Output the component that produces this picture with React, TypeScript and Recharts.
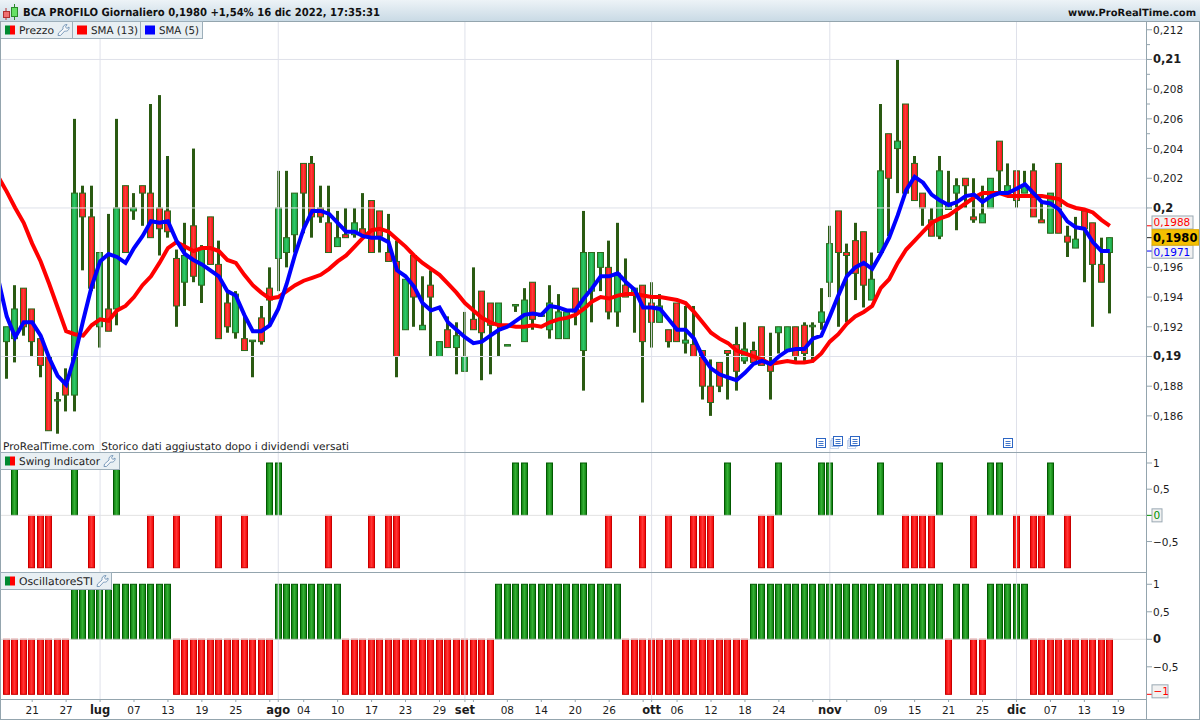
import { Bar, ComposedChart, Line, ReferenceDot, ReferenceLine, XAxis, YAxis } from 'recharts'

// one session before the first candle, so the averages run off the left edge, and four empty ones after the last
const sessions = [
  '15/06', '16/06', '17/06', '20/06', '21/06', '22/06', '23/06', '24/06', '27/06', '28/06', '29/06', '30/06',
  '01/07', '04/07', '05/07', '06/07', '07/07', '08/07', '11/07', '12/07', '13/07', '14/07', '15/07', '18/07', '19/07', '20/07', '21/07', '22/07', '25/07', '26/07', '27/07', '28/07', '29/07',
  '01/08', '02/08', '03/08', '04/08', '05/08', '08/08', '09/08', '10/08', '11/08', '12/08', '16/08', '17/08', '18/08', '19/08', '22/08', '23/08', '24/08', '25/08', '26/08', '29/08', '30/08', '31/08',
  '01/09', '02/09', '05/09', '06/09', '07/09', '08/09', '09/09', '12/09', '13/09', '14/09', '15/09', '16/09', '19/09', '20/09', '21/09', '22/09', '23/09', '26/09', '27/09', '28/09', '29/09', '30/09',
  '03/10', '04/10', '05/10', '06/10', '07/10', '10/10', '11/10', '12/10', '13/10', '14/10', '17/10', '18/10', '19/10', '20/10', '21/10', '24/10', '25/10', '26/10', '27/10', '28/10', '31/10',
  '01/11', '02/11', '03/11', '04/11', '07/11', '08/11', '09/11', '10/11', '11/11', '14/11', '15/11', '16/11', '17/11', '18/11', '21/11', '22/11', '23/11', '24/11', '25/11', '28/11', '29/11', '30/11',
  '01/12', '02/12', '05/12', '06/12', '07/12', '08/12', '09/12', '12/12', '13/12', '14/12', '15/12', '16/12', '19/12', '20/12', '21/12', '22/12',
]

const opens = [
  0.191, 0.1912, 0.1946, 0.1932, 0.1912, 0.19, 0.187, 0.1882, 0.1874, 0.201,
  0.1994, 0.192, 0.1932, 0.1932, 0.2015, 0.1998, 0.2015, 0.201, 0.2, 0.1998,
  0.1966, 0.195, 0.1988, 0.1948, 0.1994, 0.1962, 0.1936, 0.1916, 0.1912, 0.191,
  0.1926, 0.1946, 0.1966, 0.197, 0.1982, 0.203, 0.203, 0.2, 0.199, 0.1974,
  0.1982, 0.1982, 0.1986, 0.2005, 0.1998, 0.197, 0.1964, 0.1918, 0.1968, 0.1918,
  0.1948, 0.19, 0.1918, 0.1906, 0.189, 0.1925, 0.1944, 0.1936, 0.1922, 0.1907,
  0.1934, 0.191, 0.195, 0.1927, 0.1918, 0.1912, 0.1912, 0.1946, 0.1904, 0.1944,
  0.196, 0.196, 0.193, 0.1948, 0.1942, 0.1948, 0.1936, 0.1923, 0.1918, 0.1936,
  0.1909, 0.1908, 0.1904, 0.188, 0.1896, 0.1904, 0.1908, 0.1897, 0.1904, 0.192,
  0.1896, 0.1916, 0.1904, 0.192, 0.1921, 0.192, 0.1923, 0.195, 0.1998, 0.197,
  0.1978, 0.1984, 0.1938, 0.197, 0.205, 0.204, 0.207, 0.203, 0.201, 0.1992,
  0.1981, 0.1999, 0.201, 0.202, 0.1994, 0.199, 0.2, 0.2045, 0.201, 0.2025,
  0.201, 0.2025, 0.1992, 0.1983, 0.203, 0.1981, 0.1973, 0.1998, 0.199, 0.1962,
  0.197,
]
const closes = [
  0.192, 0.1932, 0.192, 0.191, 0.1894, 0.185, 0.1871, 0.1874, 0.201, 0.1994,
  0.1946, 0.197, 0.1917, 0.2, 0.197, 0.2, 0.201, 0.198, 0.1986, 0.1984,
  0.1934, 0.1968, 0.1954, 0.1972, 0.1962, 0.1912, 0.192, 0.1942, 0.1904, 0.1911,
  0.191, 0.1938, 0.2, 0.198, 0.201, 0.201, 0.1994, 0.1994, 0.197, 0.198,
  0.198, 0.199, 0.1982, 0.197, 0.1981, 0.1964, 0.19, 0.1952, 0.194, 0.1921,
  0.194, 0.191, 0.1906, 0.1914, 0.19, 0.1918, 0.1916, 0.1921, 0.1936, 0.1908,
  0.1935, 0.1938, 0.1925, 0.1928, 0.1936, 0.193, 0.193, 0.193, 0.197, 0.197,
  0.197, 0.193, 0.1956, 0.194, 0.1946, 0.191, 0.1923, 0.1934, 0.191, 0.191,
  0.1911, 0.19, 0.188, 0.1869, 0.188, 0.1902, 0.189, 0.1905, 0.1896, 0.1894,
  0.189, 0.192, 0.192, 0.19, 0.1902, 0.1921, 0.193, 0.1976, 0.197, 0.1968,
  0.1956, 0.1948, 0.1952, 0.2025, 0.202, 0.2045, 0.201, 0.2005, 0.2, 0.1981,
  0.2025, 0.2003, 0.2015, 0.2015, 0.1992, 0.1996, 0.202, 0.2025, 0.2015, 0.2005,
  0.2015, 0.1994, 0.199, 0.201, 0.1983, 0.1977, 0.1979, 0.1986, 0.1962, 0.195,
  0.198,
]
const highs = [
  0.192, 0.1948, 0.1946, 0.1932, 0.1912, 0.19, 0.1876, 0.1892, 0.206, 0.2015,
  0.2015, 0.197, 0.1996, 0.206, 0.2015, 0.201, 0.2015, 0.207, 0.2076, 0.2035,
  0.1972, 0.199, 0.204, 0.1975, 0.1994, 0.1978, 0.1944, 0.1944, 0.1927, 0.1911,
  0.1934, 0.196, 0.2025, 0.2025, 0.201, 0.203, 0.2035, 0.2015, 0.2015, 0.1998,
  0.2, 0.2, 0.201, 0.2005, 0.1998, 0.1996, 0.1978, 0.1952, 0.1968, 0.1954,
  0.1958, 0.191, 0.1927, 0.1923, 0.193, 0.196, 0.1944, 0.1936, 0.1936, 0.1908,
  0.1935, 0.1946, 0.195, 0.1928, 0.1948, 0.1942, 0.193, 0.1946, 0.1998, 0.197,
  0.197, 0.1978, 0.199, 0.1966, 0.1946, 0.1948, 0.195, 0.1942, 0.1918, 0.1936,
  0.1934, 0.1934, 0.1904, 0.1898, 0.1896, 0.1904, 0.192, 0.1923, 0.191, 0.192,
  0.1916, 0.192, 0.192, 0.192, 0.1923, 0.1923, 0.1946, 0.1988, 0.1998, 0.1976,
  0.199, 0.1984, 0.197, 0.207, 0.205, 0.21, 0.207, 0.2035, 0.201, 0.2,
  0.2035, 0.2025, 0.202, 0.202, 0.202, 0.2015, 0.202, 0.2045, 0.203, 0.2025,
  0.2025, 0.203, 0.2005, 0.201, 0.203, 0.1988, 0.1994, 0.1998, 0.199, 0.198,
  0.198,
]
const lows = [
  0.1885, 0.1896, 0.1914, 0.19, 0.1886, 0.185, 0.1848, 0.1863, 0.1863, 0.1958,
  0.1944, 0.1906, 0.1917, 0.1921, 0.197, 0.1992, 0.1988, 0.198, 0.1968, 0.198,
  0.192, 0.1934, 0.195, 0.1936, 0.1962, 0.1912, 0.1916, 0.1912, 0.1904, 0.1886,
  0.1908, 0.192, 0.1944, 0.196, 0.197, 0.1983, 0.198, 0.199, 0.197, 0.1974,
  0.198, 0.198, 0.198, 0.197, 0.197, 0.1964, 0.1886, 0.1918, 0.192, 0.1918,
  0.19, 0.19, 0.1906, 0.1888, 0.189, 0.1918, 0.1884, 0.1888, 0.19, 0.1907,
  0.193, 0.191, 0.1918, 0.1927, 0.1912, 0.1912, 0.1912, 0.1921, 0.1877, 0.1923,
  0.1944, 0.1925, 0.192, 0.194, 0.1916, 0.1869, 0.1906, 0.1923, 0.1906, 0.191,
  0.1902, 0.19, 0.1871, 0.186, 0.1876, 0.1871, 0.1877, 0.1895, 0.1896, 0.1894,
  0.1871, 0.1902, 0.1904, 0.1896, 0.1897, 0.1896, 0.1918, 0.194, 0.192, 0.1923,
  0.1938, 0.1933, 0.1938, 0.197, 0.1981, 0.201, 0.201, 0.2005, 0.1988, 0.1981,
  0.1979, 0.1999, 0.1985, 0.2, 0.199, 0.199, 0.2, 0.201, 0.201, 0.2,
  0.201, 0.1994, 0.199, 0.1983, 0.1983, 0.1967, 0.1973, 0.195, 0.192, 0.195,
  0.1929,
]

// first value is the extra session before the candles start
const sma13 = [
  0.2021,
  0.2011, 0.2, 0.199, 0.1976, 0.1964, 0.1949, 0.1933, 0.1917, 0.1915, 0.1914,
  0.1921, 0.1925, 0.1924, 0.1931, 0.1934, 0.194, 0.1948, 0.1954, 0.1963, 0.1973,
  0.1977, 0.1974, 0.1971, 0.1973, 0.1973, 0.1971, 0.1965, 0.1963, 0.1955, 0.1948,
  0.1943, 0.1939, 0.194, 0.1944, 0.1948, 0.1951, 0.1953, 0.1955, 0.1959, 0.1964,
  0.1968, 0.1974, 0.198, 0.1985, 0.1986, 0.1984, 0.1979, 0.1974, 0.1968, 0.1963,
  0.1959, 0.1955, 0.1949, 0.1943, 0.1936, 0.1931, 0.1926, 0.1923, 0.1921, 0.1921,
  0.192, 0.192, 0.1921, 0.192, 0.1923, 0.1925, 0.1926, 0.1928, 0.1932, 0.1937,
  0.194, 0.1939, 0.1941, 0.1942, 0.1942, 0.1941, 0.194, 0.194, 0.1939, 0.1938,
  0.1936, 0.193, 0.1923, 0.1916, 0.1912, 0.1909, 0.1904, 0.1902, 0.19, 0.1898,
  0.1895, 0.1896, 0.1897, 0.1896, 0.1896, 0.1897, 0.1902, 0.191, 0.1915, 0.1922,
  0.1927, 0.193, 0.1934, 0.1946, 0.1952, 0.1963, 0.1972, 0.1978, 0.1984, 0.199,
  0.1993, 0.1995, 0.1999, 0.2003, 0.2007, 0.201, 0.201, 0.201, 0.2008, 0.2008,
  0.2008, 0.2008, 0.2008, 0.2007, 0.2006, 0.2002, 0.2, 0.1999, 0.1997, 0.1992,
  0.1988,
]
const sma5 = [
  0.1952,
  0.1927, 0.1913, 0.1923, 0.1923, 0.1914, 0.1899, 0.1887, 0.1881, 0.19, 0.1924,
  0.1947, 0.1964, 0.1969, 0.1967, 0.1963, 0.1973, 0.1981, 0.1991, 0.199, 0.1991,
  0.1978, 0.1969, 0.1965, 0.1962, 0.1958, 0.1954, 0.1944, 0.1941, 0.1928, 0.1917,
  0.1917, 0.1921, 0.1932, 0.1949, 0.1969, 0.1986, 0.1998, 0.1998, 0.1996, 0.199,
  0.1984, 0.1984, 0.1981, 0.198, 0.198, 0.1977, 0.1958, 0.1954, 0.1947, 0.1936,
  0.1931, 0.1933, 0.1923, 0.1918, 0.1913, 0.1909, 0.191, 0.1914, 0.1918, 0.192,
  0.1924, 0.1928, 0.1929, 0.1928, 0.1934, 0.1933, 0.1931, 0.1931, 0.1939, 0.1946,
  0.1954, 0.1954, 0.1956, 0.195, 0.1945, 0.1933, 0.1933, 0.1932, 0.1925, 0.1918,
  0.1918, 0.1912, 0.19, 0.1892, 0.1888, 0.1886, 0.1884, 0.1889, 0.1895, 0.1897,
  0.1895, 0.19, 0.1904, 0.1905, 0.1905, 0.1912, 0.1914, 0.1927, 0.1941, 0.1954,
  0.196, 0.1963, 0.1959, 0.1969, 0.198, 0.1995, 0.2012, 0.2021, 0.2017, 0.2009,
  0.2005, 0.2002, 0.2004, 0.2008, 0.2009, 0.2004, 0.2008, 0.201, 0.201, 0.2013,
  0.2016, 0.201, 0.2004, 0.2003, 0.1999, 0.1991, 0.1987, 0.1986, 0.1977, 0.1971,
  0.1971,
]

const swing = [
  0, 1, 0, -1, -1, -1, 0, 0, 1, 0,
  -1, 0, 0, 1, 0, 0, 0, -1, 0, 0,
  -1, 0, 0, 0, 0, -1, 0, 0, -1, 0,
  0, 1, 1, 0, 0, 0, 0, 0, -1, 0,
  0, 0, 0, -1, 0, -1, -1, 0, 0, 0,
  0, 0, 0, 0, 0, 0, 0, 0, 0, 0,
  1, 1, 0, 0, 1, 0, 0, 0, 1, 0,
  0, -1, 0, 0, 0, -1, 0, 0, -1, 0,
  0, -1, -1, -1, 0, 1, 0, 0, 0, -1,
  -1, 1, 0, 0, 0, 0, 1, 1, 0, 0,
  0, 0, 0, 1, 0, 0, -1, -1, -1, -1,
  1, 0, 0, 0, -1, 0, 1, 1, 0, -1,
  0, -1, -1, 1, 0, -1, 0, 0, 0, 0,
  0,
]
const oscillator = [
  -1, -1, -1, -1, -1, -1, -1, -1, 1, 1,
  1, 1, 1, 1, 1, 1, 1, 1, 1, 1,
  -1, -1, -1, -1, -1, -1, -1, -1, -1, -1,
  -1, -1, 1, 1, 1, 1, 1, 1, 1, 1,
  -1, -1, -1, -1, -1, -1, -1, -1, -1, -1,
  -1, -1, -1, -1, -1, -1, -1, -1, 1, 1,
  1, 1, 1, 1, 1, 1, 1, 1, 1, 1,
  1, 1, 1, -1, -1, -1, -1, -1, -1, -1,
  -1, -1, -1, -1, -1, -1, -1, -1, 1, 1,
  1, 1, 1, 1, 1, 1, 1, 1, 1, 1,
  1, 1, 1, 1, 1, 1, 1, 1, 1, 1,
  1, -1, 1, 1, -1, -1, 1, 1, 1, 1,
  1, -1, -1, -1, -1, -1, -1, -1, -1, -1,
  -1,
]

const monthStarts = ['01/07', '01/08', '01/09', '03/10', '01/11', '01/12']
const monthNames = ['lug', 'ago', 'set', 'ott', 'nov', 'dic']
const xTicks = [
  '21/06', '27/06', '01/07', '07/07', '13/07', '19/07', '25/07', '29/07', '01/08', '04/08', '10/08', '17/08', '23/08',
  '29/08', '01/09', '02/09', '08/09', '14/09', '20/09', '26/09', '30/09', '03/10', '06/10', '12/10', '18/10', '24/10',
  '28/10', '01/11', '03/11', '09/11', '15/11', '21/11', '25/11', '01/12', '07/12', '13/12', '19/12',
]
// these ticks have a mark but no text in the picture
const silentTicks = ['29/07', '02/09', '30/09', '28/10', '03/11']

const priceMajor = [0.21, 0.2, 0.19]
const priceLabelled = [0.212, 0.208, 0.206, 0.204, 0.202, 0.196, 0.194, 0.192, 0.188, 0.186]
const priceMinor = [0.211, 0.209, 0.207, 0.205]
const lastSma13 = 0.1988
const lastSma5 = 0.1971
const lastClose = 0.198
const priceTicks = [...priceMinor, ...priceLabelled, ...priceMajor, lastSma13, lastSma5, lastClose]
const dividendDates = ['31/10', '02/11', '04/11', '30/11']
const dividendStacked = ['02/11', '04/11']

const PRICE_DOMAIN = [0.1835, 0.21259]
const SWING_DOMAIN = [-1.101, 1.191]
const OSC_DOMAIN = [-1.085, 1.205]

const FONT = '"DejaVu Sans", sans-serif'
const AXIS = '#94a5ae'
const GRID = '#dfe1ea'
const TEXT = '#1c1c1c'
const W = 1200
const MARGIN = { top: 0, right: 0, bottom: 0, left: -6 }
const Y_WIDTH = 52

const table = sessions.map((date, i) => ({
  date,
  open: opens[i - 1],
  high: highs[i - 1],
  low: lows[i - 1],
  close: closes[i - 1],
  sma13: sma13[i],
  sma5: sma5[i],
  swing: swing[i - 1],
  oscillator: oscillator[i - 1],
}))

function snap(center: number) {
  return Math.round(center - 3.5) + 0.5
}

function Candle(props: any) {
  const { x, y, width, height, payload } = props
  if (payload.open == null) return null
  const { open, close, high, low } = payload
  const center = x + width / 2
  const h = Math.abs(height)
  const px = high > low ? h / (high - low) : 0
  const up = close >= open
  const bodyTop = y + (high - Math.max(open, close)) * px
  const bodyH = Math.max(Math.abs(open - close) * px, 1)
  const left = snap(center)
  return (
    <g>
      <rect x={left + 1.5} y={y} width={3} height={h} fill="#2a5a12" />
      <rect
        x={left}
        y={bodyTop}
        width={6}
        height={bodyH}
        fill={up ? 'url(#candleUp)' : 'url(#candleDown)'}
        stroke="#2c6a1c"
        strokeWidth={1}
      />
    </g>
  )
}

function Histo(props: any) {
  const { x, y, width, height, value } = props
  const v = Array.isArray(value) ? value[1] : value
  if (!v) return null
  const top = height < 0 ? y + height : y
  const left = snap(x + width / 2)
  return (
    <rect
      x={left}
      y={top}
      width={6}
      height={Math.abs(height)}
      fill={v > 0 ? 'url(#histoUp)' : 'url(#histoDown)'}
      stroke={v > 0 ? '#005a00' : '#c80000'}
      strokeWidth={1}
    />
  )
}

function ValueBox({ x, y, text, color, bg, w, dy = 0 }: any) {
  return (
    <g>
      <line x1={x} x2={x + 5} y1={y} y2={y} stroke={color} />
      <rect x={x + 5} y={y - 6.5 + dy} width={w} height={13} fill={bg} stroke="#9aa9b3" />
      <text x={x + 6.5} y={y + 4 + dy} fontFamily={FONT} fontSize={10.5} fill={color}>
        {text}
      </text>
    </g>
  )
}

function PlainTick({ x, y, text, bold }: any) {
  return (
    <g>
      <line x1={x} x2={x + 5} y1={y} y2={y} stroke={AXIS} />
      <text x={x + 6} y={y + 4} fontFamily={FONT} fontSize={bold ? 11.5 : 10.5} fontWeight={bold ? 700 : 400} fill={TEXT}>
        {text}
      </text>
    </g>
  )
}

function comma(v: number) {
  return String(v).replace('.', ',').replace('-', '\u2212')
}

// ticks arrive at the edge of the plot, the drawn axis sits one pixel left of it
function PriceTick(props: any) {
  const x = props.x - 1
  const { y, payload } = props
  const v = payload.value
  if (priceMinor.includes(v)) return <line x1={x} x2={x + 3} y1={y} y2={y} stroke={AXIS} />
  if (v === lastSma13) return <ValueBox x={x} y={y} dy={-3.3} w={41} text="0,1988" color="#ff0000" bg="#f1f1f1" />
  if (v === lastSma5) return <ValueBox x={x} y={y} dy={0.7} w={41} text="0,1971" color="#0000ff" bg="#f1f1f1" />
  if (v === lastClose) return (
    <g>
      <line x1={x} x2={x + 5} y1={y} y2={y} stroke="#222" />
      <rect x={x + 5} y={y - 8} width={46.5} height={15.5} fill="#f5c000" stroke="#e0ab00" />
      <text x={x + 6} y={y + 4} fontFamily={FONT} fontSize={11.5} fontWeight={700} fill="#000">0,1980</text>
    </g>
  )
  return <PlainTick x={x} y={y} text={comma(v)} bold={priceMajor.includes(v)} />
}

function SwingTick(props: any) {
  const x = props.x - 1
  const { y, payload } = props
  const v = payload.value
  if (v === 0) return <ValueBox x={x} y={y} w={10} text="0" color="#009000" bg="#f1f1f1" />
  return <PlainTick x={x} y={y} text={comma(v)} />
}

function OscTick(props: any) {
  const x = props.x - 1
  const { y, payload } = props
  const v = payload.value
  if (v === -1) return <ValueBox x={x} y={y} dy={-3} w={16} text={comma(v)} color="#ff0000" bg="#f1f1f1" />
  return <PlainTick x={x} y={y} text={comma(v)} bold={v === 0} />
}

function DateTick(props: any) {
  const { x, y, payload } = props
  const date = payload.value
  const monthAt = monthStarts.indexOf(date)
  const text = silentTicks.includes(date) ? '' : monthAt >= 0 ? monthNames[monthAt] : date.slice(0, 2)
  return (
    <g>
      <line x1={x} x2={x} y1={y} y2={y + 3} stroke={AXIS} />
      <text
        x={x}
        y={y + 15}
        textAnchor="middle"
        fontFamily={FONT}
        fontSize={monthAt >= 0 ? 11.5 : 10.5}
        fontWeight={monthAt >= 0 ? 700 : 400}
        fill={TEXT}
      >
        {text}
      </text>
    </g>
  )
}

function DocIcon(props: any) {
  const { cx, cy, stacked } = props
  const x = Math.round(cx) - 4.5
  const y = Math.round(cy) - (stacked ? 6.5 : 4.5)
  return (
    <g fill="#fff" stroke="#2d66c4" strokeWidth={1}>
      {stacked && <rect x={x - 3} y={y + 4} width={8} height={8} stroke="#c8d6ee" />}
      {stacked && <rect x={x - 1.5} y={y + 2} width={8} height={8} stroke="#a5bde6" />}
      <rect x={x} y={y} width={9} height={9} />
      <path d={`M${x + 2} ${y + 3}h5M${x + 2} ${y + 5}h5M${x + 2} ${y + 7}h5`} strokeWidth={0.9} />
    </g>
  )
}

function Wrench({ x, y }: { x: number; y: number }) {
  return (
    <path
      transform={`translate(${x} ${y})`}
      d="M0.5 11.5 L1 9 L5.5 5 C5 2.5 6.5 0.5 9.5 0.5 L8 2.8 L9.3 4.5 L11.5 3 C12 6 9.5 7.8 7.2 7 L3 11.5 Z"
      fill="#f5f8fa"
      stroke="#6f92b4"
      strokeWidth={0.9}
    />
  )
}

function Swatch({ x, y, fill }: any) {
  if (fill) return <rect x={x} y={y} width={10} height={9} fill={fill} />
  return (
    <g>
      <rect x={x} y={y} width={5} height={9} fill="#008a30" />
      <rect x={x + 5} y={y} width={5} height={9} fill="#ff0000" />
    </g>
  )
}

function Pill({ x, y, w, h, swatch, label, labelW, wrench }: any) {
  const mid = y + h / 2
  return (
    <g>
      <rect x={x} y={y} width={w} height={h} fill="#e8eff3" stroke="#9dafba" />
      <Swatch x={x + 4.5} y={mid - 4.5} fill={swatch} />
      <text
        x={x + 18.5}
        y={mid + 4}
        fontFamily={FONT}
        fontSize={10.5}
        fill={TEXT}
        textLength={labelW}
        lengthAdjust="spacingAndGlyphs"
      >
        {label}
      </text>
      {wrench && <Wrench x={x + 18.5 + labelW + 3.5} y={mid - 6} />}
    </g>
  )
}

function Overlay() {
  return (
    <svg width={W} height={720} style={{ position: 'absolute', left: 0, top: 0, textRendering: 'geometricPrecision' }}>
      <defs>
        <linearGradient id="topBar" x1="0" y1="0" x2="0" y2="1">
          <stop offset="0" stopColor="#edf3f7" />
          <stop offset="1" stopColor="#c9dae5" />
        </linearGradient>
      </defs>
      <rect x={0} y={0} width={W} height={21} fill="url(#topBar)" />
      <line x1={0} x2={W} y1={21.5} y2={21.5} stroke={AXIS} />

      <line x1={6} x2={6} y1={8} y2={20} stroke="#b03030" />
      <rect x={3.5} y={11.5} width={6} height={6} fill="#f07070" stroke="#b03030" />
      <line x1={14.5} x2={14.5} y1={4} y2={20} stroke="#2a8a2a" />
      <rect x={11.5} y={7.5} width={6} height={9} fill="#66e066" stroke="#2a8a2a" />

      <text x={23} y={16} fontFamily={FONT} fontSize={11} fontWeight={700} fill="#111" textLength={357} lengthAdjust="spacingAndGlyphs">
        BCA PROFILO Giornaliero 0,1980 +1,54% 16 dic 2022, 17:35:31
      </text>
      <text x={1068} y={16} fontFamily={FONT} fontSize={10} fontWeight={700} fill="#111" textLength={128} lengthAdjust="spacingAndGlyphs">
        www.ProRealTime.com
      </text>

      <Pill x={0.5} y={21.5} w={72} h={17} label="Prezzo" labelW={35} wrench />
      <Pill x={72.5} y={21.5} w={68} h={17} swatch="#ff0000" label="SMA (13)" labelW={47} />
      <Pill x={140.5} y={21.5} w={62} h={17} swatch="#0000ff" label="SMA (5)" labelW={40} />

      <text x={3} y={450} fontFamily={FONT} fontSize={10.5} fill={TEXT} textLength={346} lengthAdjust="spacingAndGlyphs" xmlSpace="preserve">
        ProRealTime.com  Storico dati aggiustato dopo i dividendi versati
      </text>

      <line x1={1146.5} x2={1146.5} y1={21} y2={719} stroke={AXIS} />
      <line x1={0} x2={1147} y1={452.5} y2={452.5} stroke={AXIS} />
      <line x1={0} x2={1147} y1={572.5} y2={572.5} stroke={AXIS} />
      <line x1={0} x2={1147} y1={699.5} y2={699.5} stroke={AXIS} />
      <line x1={0} x2={W} y1={719.5} y2={719.5} stroke={AXIS} />
      <line x1={0.5} x2={0.5} y1={21} y2={720} stroke={AXIS} />
      <line x1={1199.5} x2={1199.5} y1={21} y2={720} stroke={AXIS} />

      <Pill x={0.5} y={452.5} w={119} h={17} label="Swing Indicator" labelW={81} wrench />
      <Pill x={0.5} y={572.5} w={111} h={17} label="OscillatoreSTI" labelW={74} wrench />
    </svg>
  )
}

export default function App() {
  return (
    <div style={{ position: 'absolute', left: 0, top: 0, width: W, height: 720, background: '#fff', overflow: 'hidden' }}>
      <svg width={0} height={0} style={{ position: 'absolute' }}>
        <defs>
          <linearGradient id="candleUp" x1="0" y1="0" x2="1" y2="0">
            <stop offset="0" stopColor="#18a24a" />
            <stop offset="0.5" stopColor="#2ec862" />
            <stop offset="1" stopColor="#159a44" />
          </linearGradient>
          <linearGradient id="candleDown" x1="0" y1="0" x2="1" y2="0">
            <stop offset="0" stopColor="#f01010" />
            <stop offset="0.5" stopColor="#ff3a3a" />
            <stop offset="1" stopColor="#ee0e0e" />
          </linearGradient>
          <linearGradient id="histoUp" x1="0" y1="0" x2="1" y2="0">
            <stop offset="0" stopColor="#0d7a0d" />
            <stop offset="0.5" stopColor="#34b034" />
            <stop offset="1" stopColor="#0d7a0d" />
          </linearGradient>
          <linearGradient id="histoDown" x1="0" y1="0" x2="1" y2="0">
            <stop offset="0" stopColor="#f40000" />
            <stop offset="0.5" stopColor="#ff3636" />
            <stop offset="1" stopColor="#f40000" />
          </linearGradient>
        </defs>
      </svg>

      <div style={{ position: 'absolute', left: 0, top: 21 }}>
        <ComposedChart width={W} height={432} data={table} margin={MARGIN} barCategoryGap={0}>
          <XAxis dataKey="date" hide />
          <YAxis
            orientation="right"
            width={Y_WIDTH}
            domain={PRICE_DOMAIN}
            ticks={priceTicks}
            interval={0}
            tick={PriceTick}
            tickSize={0}
            tickMargin={0}
            tickLine={false}
            axisLine={false}
            allowDataOverflow
          />
          {priceMajor.map((v) => (
            <ReferenceLine key={v} y={v} stroke={GRID} />
          ))}
          {monthStarts.map((d) => (
            <ReferenceLine key={d} x={d} stroke={GRID} />
          ))}
          <Bar dataKey={(d: any) => (d.open == null ? null : [d.low, d.high])} shape={Candle} isAnimationActive={false} />
          <Line dataKey="sma13" stroke="#ff0000" strokeWidth={4} dot={false} type="linear" isAnimationActive={false} />
          <Line dataKey="sma5" stroke="#0000ff" strokeWidth={4} dot={false} type="linear" isAnimationActive={false} />
          {dividendDates.map((d) => (
            <ReferenceDot
              key={d}
              x={d}
              y={0.18417}
              shape={(p: any) => <DocIcon {...p} stacked={dividendStacked.includes(d)} />}
            />
          ))}
        </ComposedChart>
      </div>

      <div style={{ position: 'absolute', left: 0, top: 453 }}>
        <ComposedChart width={W} height={120} data={table} margin={MARGIN} barCategoryGap={0}>
          <XAxis dataKey="date" hide />
          <YAxis
            orientation="right"
            width={Y_WIDTH}
            domain={SWING_DOMAIN}
            ticks={[1, 0.5, -0.5, 0]}
            interval={0}
            tick={SwingTick}
            tickSize={0}
            tickMargin={0}
            tickLine={false}
            axisLine={false}
            allowDataOverflow
          />
          <ReferenceLine y={0} stroke="#e2e2e2" />
          {monthStarts.map((d) => (
            <ReferenceLine key={d} x={d} stroke={GRID} />
          ))}
          <Bar dataKey="swing" shape={Histo} isAnimationActive={false} />
        </ComposedChart>
      </div>

      <div style={{ position: 'absolute', left: 0, top: 573 }}>
        <ComposedChart width={W} height={146} data={table} margin={MARGIN} barCategoryGap={0}>
          <XAxis
            dataKey="date"
            height={20}
            ticks={xTicks}
            interval={0}
            tick={DateTick}
            tickSize={0}
            tickMargin={0}
            tickLine={false}
            axisLine={false}
          />
          <YAxis
            orientation="right"
            width={Y_WIDTH}
            domain={OSC_DOMAIN}
            ticks={[1, 0.5, 0, -0.5, -1]}
            interval={0}
            tick={OscTick}
            tickSize={0}
            tickMargin={0}
            tickLine={false}
            axisLine={false}
            allowDataOverflow
          />
          <ReferenceLine y={0} stroke="#e2e2e2" />
          {monthStarts.map((d) => (
            <ReferenceLine key={d} x={d} stroke={GRID} />
          ))}
          <Bar dataKey="oscillator" shape={Histo} isAnimationActive={false} />
        </ComposedChart>
      </div>

      <div style={{ position: 'absolute', left: 0, top: 0, width: W, height: 720 }}>
        <Overlay />
      </div>
    </div>
  )
}
